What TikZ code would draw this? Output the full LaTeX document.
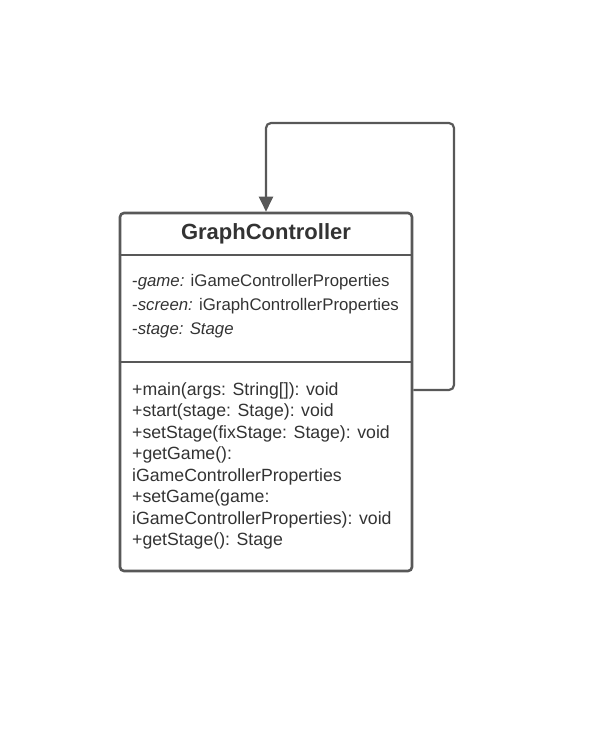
\documentclass[tikz,border=0pt]{standalone}
\usepackage{fontspec}
\setmainfont{Liberation Sans}
\usetikzlibrary{arrows.meta,positioning}

\definecolor{umlgray}{HTML}{585858}
\definecolor{umltext}{HTML}{333333}

\tikzset{
  classbox/.style={draw=umlgray, line width=2.6pt, rounded corners=4pt, minimum width=292pt, minimum height=358pt, inner sep=0pt},
  divider/.style={draw=umlgray, line width=2.6pt},
  member/.style={anchor=base west, inner sep=0pt, text=umltext, font=\fontsize{17.7}{21}\selectfont},
  field/.style={member, font=\fontsize{16.8}{20}\selectfont},
  selfloop/.style={draw=umlgray, line width=2.2pt, rounded corners=5pt, -{Triangle[length=15pt,width=14pt]}}
}

\begin{document}
\begin{tikzpicture}[x=1pt, y=-1pt]
\useasboundingbox (0,0) rectangle (607,752);

% class box
\node[classbox] (cls) at (266,392) {};
\node[anchor=base, inner sep=0pt, text=umltext, font=\fontsize{22}{26}\selectfont\bfseries] (title) at (266,239) {GraphController};
\draw[divider] (cls.west |- 0,255) -- (cls.east |- 0,255);
\draw[divider] (cls.west |- 0,362) -- (cls.east |- 0,362);

% attributes
\foreach \y/\t [count=\i] in {286/{-{\itshape game:} iGameControllerProperties},
                              310/{-{\itshape screen:} iGraphControllerProperties},
                              334/{-{\itshape stage: Stage}}} {
  \node[field] (attr\i) at (132,\y) {\t};
}

% operations
\foreach \y/\t [count=\i] in {395/{+main(args: String[]): void},
                              416.5/{+start(stage: Stage): void},
                              438/{+setStage(fixStage: Stage): void},
                              459.5/{+getGame():},
                              481/{iGameControllerProperties},
                              502.5/{+setGame(game:},
                              524/{iGameControllerProperties): void},
                              545.5/{+getStage(): Stage}} {
  \node[member] (op\i) at (132,\y) {\t};
}

% self association
\coordinate (loopout) at (cls.east |- 0,390);
\draw[selfloop] (loopout) -| (454,123) -| (cls.north);
\end{tikzpicture}
\end{document}
